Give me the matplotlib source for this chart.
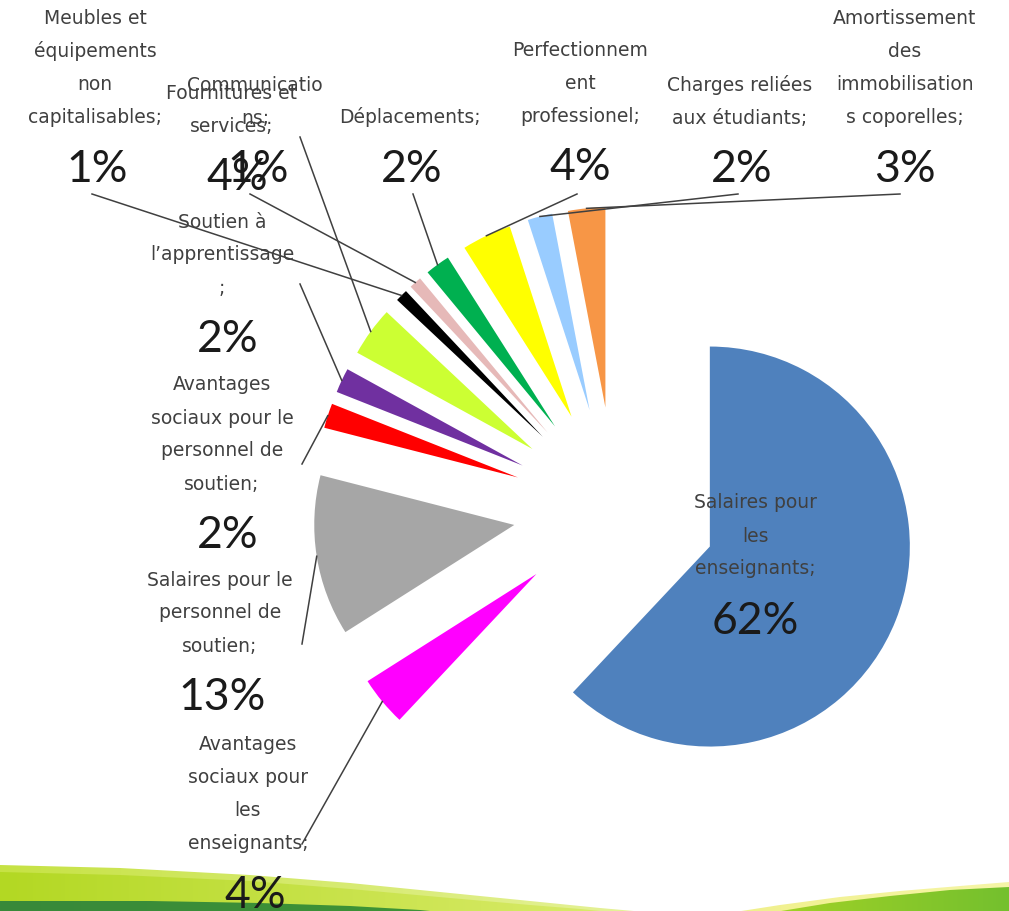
import numpy as np
import matplotlib
matplotlib.use('Agg')
import matplotlib.pyplot as plt
from matplotlib.patches import Polygon
from matplotlib.colors import LinearSegmentedColormap

# data, clockwise from 12 o'clock
names = ['Salaires pour\nles\nenseignants;',
         'Avantages\nsociaux pour\nles\nenseignants;',
         'Salaires pour le\npersonnel de\nsoutien;',
         'Avantages\nsociaux pour le\npersonnel de\nsoutien;',
         'Soutien à\nl’apprentissage\n;',
         'Fournitures et\nservices;',
         'Meubles et\néquipements\nnon\ncapitalisables;',
         'Communicatio\nns;',
         'Déplacements;',
         'Perfectionnem\nent\nprofessionel;',
         'Charges reliées\naux étudiants;',
         'Amortissement\ndes\nimmobilisation\ns coporelles;']
shares = [62, 4, 13, 2, 2, 4, 1, 1, 2, 4, 2, 3]
colors = ['#4F81BD', '#FF00FF', '#A6A6A6', '#FF0000', '#7030A0', '#CCFF33',
          '#000000', '#E6B9B8', '#00B050', '#FFFF00', '#99CCFF', '#F79646']

# label layout in pixels: (x, y of first line), start of leader line (None = inside)
label_pos = [(755, 503), (248, 745), (220, 580), (222, 385), (222, 222), (232, 93),
             (95, 18), (255, 85), (410, 117), (580, 50), (740, 85), (905, 18)]
pct_x_shift = [0, 7, 2, 6, 6, 5, 2, 3, 2, 0, 2, 0]
leader_start = [None, (302, 845), (302, 645), (302, 465), (300, 285), (300, 138),
                (92, 195), (250, 195), (413, 195), (577, 195), (738, 195), (900, 195)]

W, H = 1009, 912
R = 200
fig = plt.figure(figsize=(W / 100, H / 100), dpi=100)
ax = fig.add_axes([0, 0, 1, 1])


def py(y):
    return H - y


# explode is in data units here (radius is 200 px)
wedges, _ = ax.pie(shares, colors=colors, startangle=90, counterclock=False,
                   explode=[0.51 * R] * len(shares), radius=R, center=(615, py(510)),
                   wedgeprops=dict(linewidth=0), frame=False)

line_gap = 33
for i, w in enumerate(wedges):
    lx, ly = label_pos[i]
    lines = names[i].split('\n')
    for k, t in enumerate(lines):
        ax.text(lx, py(ly + k * line_gap), t, ha='center', va='center',
                fontsize=13.5, color='#404040', family='DejaVu Sans', zorder=10)
    ax.text(lx + pct_x_shift[i], py(ly + (len(lines) - 1) * line_gap + 52),
            f'{shares[i]}%', ha='center', va='center', fontsize=32,
            color='#1a1a1a', family='Lato', zorder=10)
    if leader_start[i] is not None:
        mid = np.deg2rad((w.theta1 + w.theta2) / 2)
        ex = w.center[0] + w.r * np.cos(mid)
        ey = w.center[1] + w.r * np.sin(mid)
        sx, sy = leader_start[i]
        ax.plot([sx, ex], [py(sy), ey], color='#404040', lw=1.1, zorder=4)


# slide decoration at the bottom
def grad_fill(pts, c1, c2, z):
    poly = Polygon([(x, py(y)) for x, y in pts], closed=True, fc='none', ec='none')
    ax.add_patch(poly)
    xs = [p[0] for p in pts]
    ys = [py(p[1]) for p in pts]
    cm = LinearSegmentedColormap.from_list('g', [c1, c2])
    im = ax.imshow(np.linspace(0, 1, 256).reshape(1, -1), cmap=cm, aspect='auto',
                   extent=(min(xs), max(xs), min(ys), max(ys)), zorder=z)
    im.set_clip_path(poly)


grad_fill([(0, 866), (120, 869), (250, 876), (350, 884), (450, 894), (540, 903),
           (600, 909), (645, 913), (0, 913)], '#C6E244', '#E6F29A', 6)
grad_fill([(0, 873), (120, 876), (250, 882), (350, 890), (450, 899), (530, 906),
           (580, 910), (610, 913), (0, 913)], '#B3D823', '#D9EB6A', 6.1)
grad_fill([(0, 902), (150, 902), (260, 904), (350, 907), (420, 911), (440, 913),
           (0, 913)], '#38893A', '#3E9436', 6.2)
grad_fill([(735, 913), (780, 906), (840, 898), (900, 892), (960, 887), (1009, 883),
           (1009, 913)], '#F0F08C', '#F6F6A8', 6)
grad_fill([(775, 913), (830, 904), (890, 897), (950, 891), (1009, 888),
           (1009, 913)], '#A2D226', '#74C02E', 6.1)

ax.set_xlim(0, W)
ax.set_ylim(0, H)
ax.set_aspect('auto')
ax.axis('off')
fig.savefig('out.png', dpi=100, facecolor='white')
